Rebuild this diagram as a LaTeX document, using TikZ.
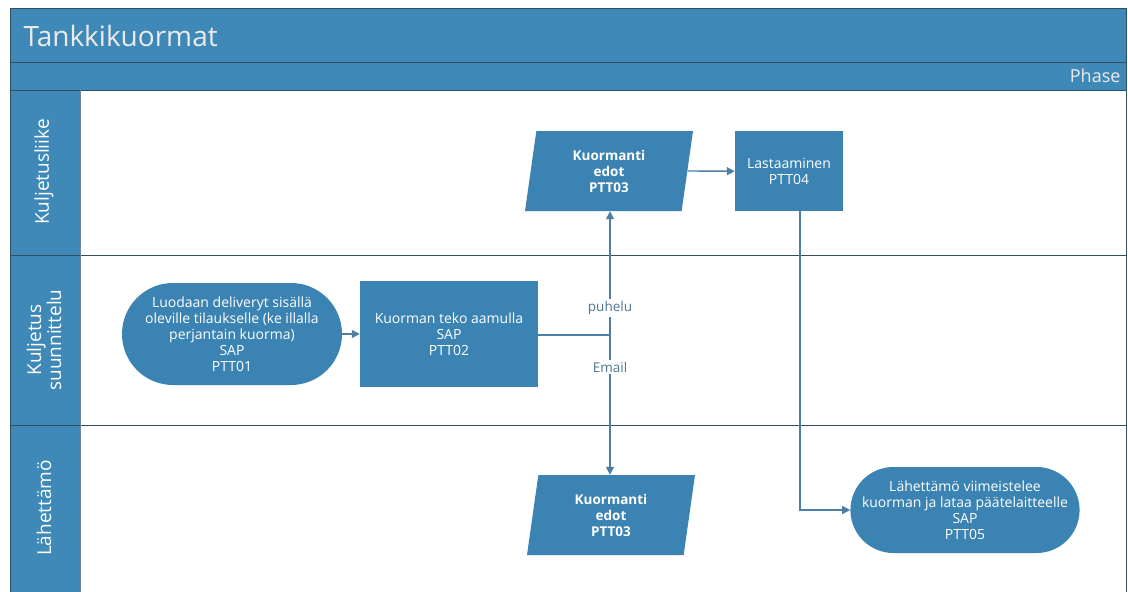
\documentclass[tikz,border=0pt]{standalone}
\usepackage{fontspec}
\setmainfont{Open Sans}
\usetikzlibrary{shapes.geometric,shapes.misc,arrows.meta}
\definecolor{barblue}{HTML}{3F89B8}
\definecolor{nodeblue}{HTML}{3A83B2}
\definecolor{edgegray}{HTML}{2F4F63}
\definecolor{linkblue}{HTML}{4C7FA3}
\definecolor{labelgray}{HTML}{4E7690}
\tikzset{
  lanetext/.style={rotate=90, text=white, font=\fontsize{19}{20}\selectfont, align=center},
  procbox/.style={rectangle, fill=nodeblue, text=white, align=center, font=\fontsize{14}{16}\selectfont},
  termbox/.style={rounded rectangle, fill=nodeblue, text=white, align=center, inner sep=0pt, font=\fontsize{14}{16}\selectfont},
  databox/.style={trapezium, trapezium left angle=75, trapezium right angle=105, trapezium stretches body=true,
    fill=nodeblue, text=white, align=center, inner sep=0pt, font=\bfseries\fontsize{13.5}{16}\selectfont},
  flow/.style={draw=linkblue, line width=1.4pt, -{Triangle[length=8pt,width=8pt]}},
  plainflow/.style={draw=linkblue, line width=1.4pt},
  linklabel/.style={fill=white, text=labelgray, inner sep=2pt, font=\fontsize{13.5}{15}\selectfont}
}
\begin{document}
\begin{tikzpicture}[x=1pt,y=-1pt]
\useasboundingbox (0,0) rectangle (1128,592);
\fill[white] (0,0) rectangle (1128,592);
% pool header and phase bar
\fill[barblue] (10,8) rectangle (1126,90);
\fill[barblue] (10,90) rectangle (80,592);
\draw[edgegray, line width=1pt] (10,62) -- (1126,62);
\draw[edgegray, line width=1pt] (10,90) -- (1126,90);
% lane separators
\draw[edgegray, line width=0.8pt] (10,255) -- (1126,255);
\draw[edgegray, line width=0.8pt] (10,425) -- (1126,425);
\draw[edgegray!70, line width=0.8pt] (80,90) -- (80,592);
% outer border
\draw[edgegray, line width=1pt] (10,592) -- (10,8) -- (1126,8) -- (1126,592);
\node[anchor=west, text=white!92!black, font=\fontsize{28}{30}\selectfont] (title) at (20,36) {Tankkikuormat};
\node[anchor=east, text=white!92!black, font=\fontsize{18}{20}\selectfont] (phase) at (1124,76) {Phase};
\node[lanetext] (lane1) at (44,172) {Kuljetusliike};
\node[lanetext] (lane2) at (44,340) {Kuljetus\\suunnittelu};
\node[lanetext] (lane3) at (44,508) {Lähettämö};
% process steps
\node[termbox, minimum width=220pt, minimum height=102pt] (p1) at (232,334)
  {Luodaan deliveryt sisällä\\oleville tilaukselle (ke illalla\\perjantain kuorma)\\SAP\\PTT01};
\node[procbox, minimum width=178pt, minimum height=106pt] (p2) at (449,334)
  {Kuorman teko aamulla\\SAP\\PTT02};
\node[databox, minimum width=168pt, minimum height=80pt] (p3a) at (609,171)
  {Kuormanti\\edot\\PTT03};
\node[procbox, minimum width=108pt, minimum height=80pt, anchor=north] (p4) at (789,131)
  {Lastaaminen\\PTT04};
\node[databox, minimum width=168pt, minimum height=80pt] (p3b) at (611,515)
  {Kuormanti\\edot\\PTT03};
\node[termbox, minimum width=222pt, minimum height=86pt] (p5) at (965,510)
  {Lähettämö viimeistelee\\kuorman ja lataa päätelaitteelle\\SAP\\PTT05};
\coordinate (split) at (610,335);
\coordinate (bend) at (800,510);
% connectors
\draw[flow] (p1.east) -- (p2.west);
\draw[plainflow] (p2.east |- split) -- (split);
\draw[flow] (split) -- (split |- p3a.south);
\draw[flow] (split) -- (split |- p3b.north);
\node[linklabel] (lbl1) at (610,308) {puhelu};
\node[linklabel] (lbl2) at (610,367) {Email};
\draw[flow] (p3a.east |- 681,171) -- (p4.west);
\draw[flow] (p4.south -| bend) -- (bend) -- (p5.west);
\end{tikzpicture}
\end{document}
